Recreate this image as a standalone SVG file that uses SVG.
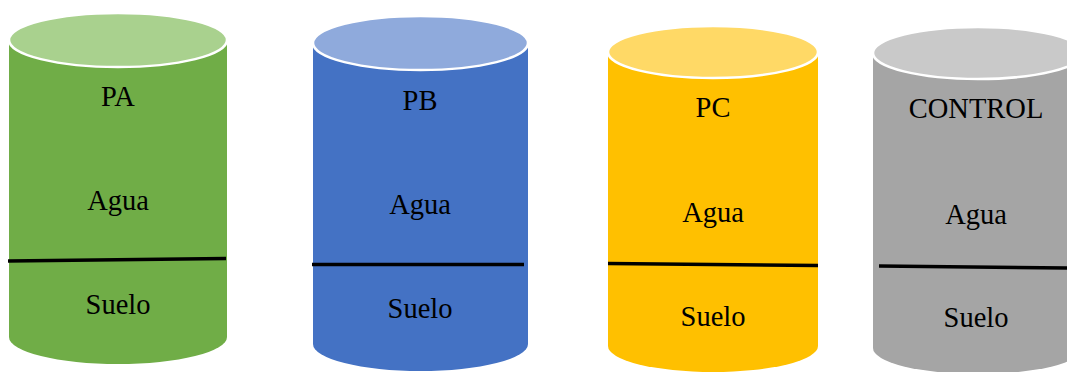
<svg xmlns="http://www.w3.org/2000/svg" width="1067" height="372" viewBox="0 0 1067 372">
<style>
.top{stroke:#FFFFFF;stroke-width:2.5}
.lbl{font-family:"Liberation Serif","Times New Roman",serif;font-size:28.5px;fill:#000;text-anchor:middle}
.sep{stroke:#000;stroke-width:3.5;fill:none}
</style>
<rect width="1067" height="372" fill="#FFFFFF"/>
<g id="PA">
<path d="M9,40 L9,337 A109,27 0 0 0 227,337 L227,40 Z" fill="#70AD47"/>
<ellipse class="top" cx="118" cy="40" rx="109" ry="27" fill="#A9D18E"/>
<text class="lbl" x="118" y="106">PA</text>
<text class="lbl" x="118" y="210">Agua</text>
<text class="lbl" x="118" y="314">Suelo</text>
</g>
<g id="PB">
<path d="M313,43 L313,344 A107.5,27 0 0 0 528,344 L528,43 Z" fill="#4472C4"/>
<ellipse class="top" cx="420.5" cy="43" rx="107.5" ry="27" fill="#8FAADC"/>
<text class="lbl" x="420" y="110">PB</text>
<text class="lbl" x="420" y="214">Agua</text>
<text class="lbl" x="420" y="318">Suelo</text>
</g>
<g id="PC">
<path d="M608,52 L608,346 A105,26 0 0 0 818,346 L818,52 Z" fill="#FFC000"/>
<ellipse class="top" cx="713" cy="52" rx="105" ry="26" fill="#FFD966"/>
<text class="lbl" x="713" y="117">PC</text>
<text class="lbl" x="713" y="222">Agua</text>
<text class="lbl" x="713" y="326">Suelo</text>
</g>
<g id="CONTROL">
<path d="M873,53 L873,348 A105,26 0 0 0 1083,348 L1083,53 Z" fill="#A5A5A5"/>
<ellipse class="top" cx="978" cy="53" rx="105" ry="26" fill="#C9C9C9"/>
<text class="lbl" x="976" y="118">CONTROL</text>
<text class="lbl" x="976" y="224">Agua</text>
<text class="lbl" x="976" y="327">Suelo</text>
</g>
<g id="connectors">
<line class="sep" x1="8" y1="261" x2="226" y2="258.5"/>
<line class="sep" x1="312" y1="264.5" x2="524" y2="264.5"/>
<line class="sep" x1="608" y1="263.5" x2="818" y2="265.5"/>
<line class="sep" x1="879" y1="266" x2="1067" y2="268"/>
</g>
</svg>
